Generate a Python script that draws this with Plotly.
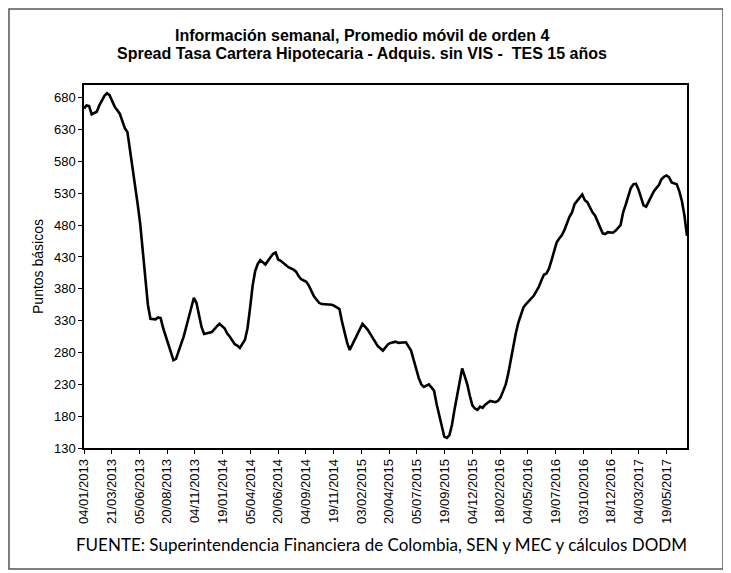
import pandas as pd
import plotly.graph_objects as go

inicio = "2013-01-04"
semanas = [
    0, 1, 2, 3, 4, 5, 6, 8, 9, 10, 12, 13, 14, 16, 17, 18, 19, 20, 21, 22,
    23, 24, 25, 26, 28, 29, 30, 31, 33, 34, 35, 36, 38, 39, 40, 42, 43, 44, 45, 46,
    47, 48, 50, 52, 53, 55, 56, 57, 59, 60, 61, 63, 64, 65, 66, 67, 68, 69, 70, 71,
    72, 73, 74, 75, 76, 77, 79, 80, 82, 83, 84, 85, 87, 88, 90, 92, 93, 95, 97, 98,
    100, 101, 102, 103, 104, 105, 107, 109, 111, 113, 115, 117, 119, 120, 122, 123, 125, 126, 128, 129,
    130, 131, 132, 133, 135, 137, 138, 139, 140, 141, 142, 143, 144, 145, 146, 147, 148, 149, 150, 151,
    152, 153, 154, 155, 156, 157, 159, 161, 162, 163, 164, 165, 166, 167, 168, 169, 170, 171, 172, 173,
    175, 176, 177, 178, 179, 180, 181, 182, 183, 184, 185, 186, 187, 188, 189, 190, 191, 192, 193, 194,
    195, 196, 197, 198, 199, 200, 201, 202, 203, 204, 205, 207, 208, 210, 211, 212, 213, 214, 215, 216,
    217, 218, 219, 220, 221, 222, 223, 224, 225, 226, 227, 228, 229, 230, 231, 232, 233, 234, 235, 236,
]
spread = [
    663, 668, 667, 654, 656, 658, 668, 683, 687, 684, 666, 661, 655, 632, 626, 598, 572, 545, 513, 482,
    437, 393, 355, 333, 332, 335, 334, 318, 293, 282, 268, 270, 292, 305, 320, 352, 366, 358, 340, 320,
    309, 310, 312, 321, 325, 318, 310, 305, 293, 291, 287, 300, 318, 350, 385, 408, 419, 425, 422, 418,
    424, 430, 435, 437, 426, 424, 417, 414, 410, 407, 400, 395, 391, 385, 368, 358, 356, 356, 355, 353,
    348, 328, 309, 295, 284, 292, 310, 325, 316, 302, 290, 283, 293, 295, 297, 295, 295, 296, 283, 268,
    254, 240, 230, 226, 230, 220, 199, 180, 165, 148, 146, 150, 166, 190, 213, 236, 255, 243, 230, 212,
    197, 192, 190, 195, 193, 198, 204, 202, 204, 209, 220, 229, 246, 268, 292, 310, 327, 340, 351, 356,
    364, 369, 376, 383, 393, 402, 404, 412, 425, 440, 453, 459, 464, 472, 484, 493, 500, 513, 518, 523,
    528, 519, 516, 508, 500, 495, 485, 474, 467, 466, 469, 468, 471, 480, 500, 512, 526, 538, 544, 545,
    536, 523, 511, 509, 517, 527, 533, 538, 543, 552, 556, 558, 555, 547, 545, 544, 533, 518, 495, 463,
]
etiquetas_x = [
    "2013-01-04", "2013-03-21", "2013-06-05", "2013-08-20", "2013-11-04", "2014-01-19",
    "2014-04-05", "2014-06-20", "2014-09-04", "2014-11-19", "2015-02-03", "2015-04-20",
    "2015-07-05", "2015-09-19", "2015-12-04", "2016-02-18", "2016-05-04", "2016-07-19",
    "2016-10-03", "2016-12-18", "2017-03-04", "2017-05-19",
]
titulo = [
    "Información semanal, Promedio móvil de orden 4",
    "Spread Tasa Cartera Hipotecaria - Adquis. sin VIS -  TES 15 años",
]
fuente = "FUENTE: Superintendencia Financiera de Colombia, SEN y MEC y cálculos DODM"

fechas = pd.Timestamp(inicio) + pd.to_timedelta([7 * s for s in semanas], unit="D")

ARIAL = "Liberation Sans, Arial, sans-serif"

fig = go.Figure()
fig.add_trace(go.Scatter(
    x=fechas,
    y=spread,
    mode="lines",
    line=dict(color="black", width=2.6),
    showlegend=False,
))

eje = dict(
    showline=True,
    linecolor="black",
    linewidth=1.5,
    mirror=True,
    showgrid=False,
    zeroline=False,
    ticks="outside",
    ticklen=4,
    tickcolor="black",
    tickfont=dict(family=ARIAL, size=13, color="black"),
)

# dos líneas de título como anotaciones para controlar el interlineado
notas = [
    dict(text=f"<b>{linea}</b>", xref="paper", yref="paper", x=0.461, y=yy,
         xanchor="center", yanchor="middle", showarrow=False,
         font=dict(family=ARIAL, size=16, color="black"))
    for linea, yy in zip(titulo, [1.135, 1.088])
]
notas.append(dict(
    text=fuente,
    xref="paper", yref="paper",
    x=0.494, y=-0.267,
    xanchor="center", yanchor="middle",
    showarrow=False,
    font=dict(family="Lato, sans-serif", size=17, color="black"),
))

fig.update_layout(
    width=723,
    height=565,
    paper_bgcolor="white",
    plot_bgcolor="white",
    margin=dict(l=76, r=44, t=77, b=125),
    xaxis=dict(
        eje,
        type="date",
        range=[fechas[0], fechas[-1]],
        tickvals=etiquetas_x,
        tickformat="%d/%m/%Y",
        tickangle=-90,
    ),
    yaxis=dict(
        eje,
        range=[130, 700],
        tick0=130,
        dtick=50,
        title=dict(text="Puntos básicos",
                   font=dict(family=ARIAL, size=14, color="black"),
                   standoff=7),
    ),
    annotations=notas,
    shapes=[dict(
        type="rect",
        xref="paper", yref="paper",
        x0=-0.1244, x1=1.0597, y0=-0.333, y1=1.2094,
        line=dict(color="#555555", width=1.5),
    )],
)

fig.write_html("out.html")
